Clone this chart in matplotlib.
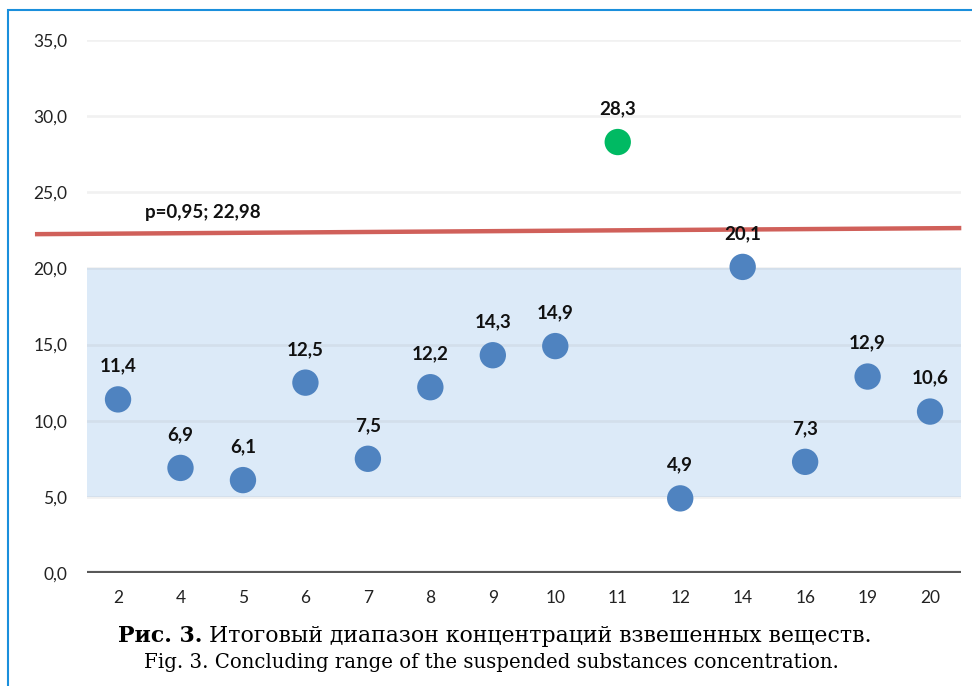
import matplotlib
matplotlib.use("Agg")
import matplotlib.pyplot as plt
from matplotlib.patches import Rectangle

categories = ["2", "4", "5", "6", "7", "8", "9", "10", "11", "12", "14", "16", "19", "20"]
values = [11.4, 6.9, 6.1, 12.5, 7.5, 12.2, 14.3, 14.9, 28.3, 4.9, 20.1, 7.3, 12.9, 10.6]
labels = ["11,4", "6,9", "6,1", "12,5", "7,5", "12,2", "14,3", "14,9", "28,3", "4,9", "20,1", "7,3", "12,9", "10,6"]
highlight = "11"
band_range = [5.0, 20.0]
limit_x = [-1.33, 13.5]
limit_y = [22.25, 22.65]
limit_label = "p=0,95; 22,98"
yticks = [0, 5, 10, 15, 20, 25, 30, 35]
ytick_labels = ["0,0", "5,0", "10,0", "15,0", "20,0", "25,0", "30,0", "35,0"]

W, H = 972, 686
fig = plt.figure(figsize=(W / 100, H / 100), dpi=100)
ax = fig.add_axes([86.8 / W, 1 - 573 / H, (961.3 - 86.8) / W, (573 - 40) / H])

x = list(range(len(categories)))
ax.set_xlim(-0.5, len(categories) - 0.5)
ax.set_ylim(0, 35)

# band
ax.axhspan(band_range[0], band_range[1], color="#DCEAF8", zorder=1, lw=0)
# grid
for yv in yticks[1:]:
    ax.axhline(yv, color="#A6A6A6", alpha=0.15, lw=2, zorder=2)
# x axis line
ax.axhline(0, color="#595959", lw=3, zorder=3)

# limit line
ax.plot(limit_x, limit_y, color="#D0605A", lw=3.2, zorder=4, clip_on=False, solid_capstyle="butt")
ax.text(1.35, 23.7, limit_label, ha="center", va="center", fontsize=13.5,
        fontweight="bold", family="Lato", color="#111111", zorder=6)

colors = ["#00BA63" if c == highlight else "#4F83C0" for c in categories]
ax.scatter(x, values, s=360, c=colors, zorder=5, linewidths=0)
for xi, v, lab in zip(x, values, labels):
    ax.annotate(lab, (xi, v), xytext=(0, 24), textcoords="offset points",
                ha="center", va="center", fontsize=13.5, fontweight="bold",
                family="Lato", color="#111111", zorder=6)

ax.set_xticks(x)
ax.set_xticklabels(categories, family="Lato", fontsize=12.5, color="#222222")
ax.set_yticks(yticks)
ax.set_yticklabels(ytick_labels, family="Lato", fontsize=12.5, color="#222222")
ax.tick_params(axis="both", length=0)
ax.tick_params(axis="x", pad=12)
ax.tick_params(axis="y", pad=14)
for s in ax.spines.values():
    s.set_visible(False)

# figure border
fig.patches.append(Rectangle((8 / W, -0.1), 1.2, 1 - 10 / H + 0.1, transform=fig.transFigure,
                             fill=False, edgecolor="#1A8FDC", lw=1.5))

# caption
fig.canvas.draw()
r = fig.canvas.get_renderer()
serif = "DejaVu Serif"
t1 = fig.text(0, 1 - 636 / H, "Рис. 3.", fontsize=15, fontweight="bold",
              family=serif, va="center", ha="left")
t2 = fig.text(0, 1 - 636 / H, "Итоговый диапазон концентраций взвешенных веществ.", fontsize=15,
              family=serif, va="center", ha="left")
t3 = fig.text(491 / W, 1 - 663 / H, "Fig. 3. Concluding range of the suspended substances concentration.",
              fontsize=14, family=serif, va="center", ha="center")
gap = 7
w = t1.get_window_extent(r).width + gap + t2.get_window_extent(r).width
k = (756 - gap) / (w - gap)
t1.set_fontsize(15 * k)
t2.set_fontsize(15 * k)
w3 = t3.get_window_extent(r).width
t3.set_fontsize(14 * 700 / w3)
w1 = t1.get_window_extent(r).width
w2 = t2.get_window_extent(r).width
start = 495 - (w1 + gap + w2) / 2
t1.set_x(start / W)
t2.set_x((start + w1 + gap) / W)

fig.savefig("out.png", dpi=100)
